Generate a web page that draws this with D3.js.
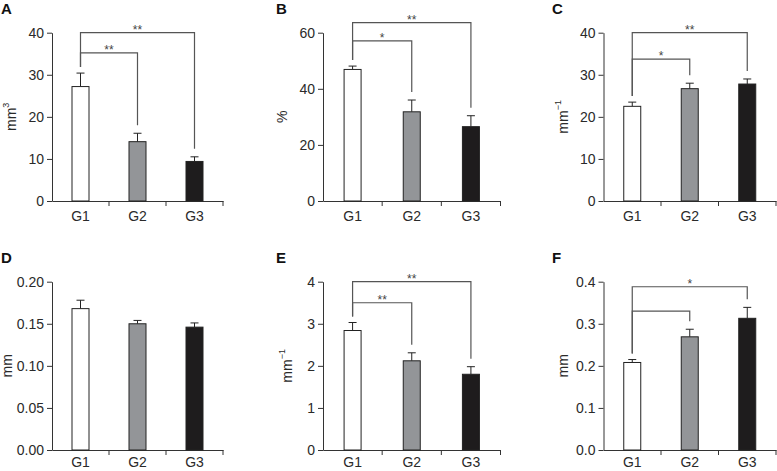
<!DOCTYPE html>
<html><head><meta charset="utf-8">
<script src="https://cdn.jsdelivr.net/npm/d3@7"></script>
<style>
body{margin:0;background:#fff}
svg{display:block}
text{font-family:"Liberation Sans",Arial,Helvetica,sans-serif}
</style>
</head><body>
<svg id="chart" width="777" height="471"></svg>
<script>
// ---------- data ----------
const groups = ["G1", "G2", "G3"];
const panelLetters = ["A", "B", "C", "D", "E", "F"];

const meansA = [27.2, 14.1, 9.4],   errA = [3.2, 2.0, 1.1],   ticksA = [0, 10, 20, 30, 40];
const meansB = [46.9, 31.8, 26.5],  errB = [1.2, 4.2, 3.9],   ticksB = [0, 20, 40, 60];
const meansC = [22.5, 26.7, 27.8],  errC = [1.0, 1.3, 1.2],   ticksC = [0, 10, 20, 30, 40];
const meansD = [0.168, 0.150, 0.146], errD = [0.010, 0.004, 0.005], ticksD = [0, 0.05, 0.10, 0.15, 0.20];
const meansE = [2.84, 2.12, 1.80],  errE = [0.19, 0.19, 0.18], ticksE = [0, 1, 2, 3, 4];
const meansF = [0.208, 0.269, 0.313], errF = [0.007, 0.018, 0.026], ticksF = [0, 0.1, 0.2, 0.3, 0.4];

const unitA = ["mm", "3"], unitB = ["%", ""], unitC = ["mm", "\u22121"],
      unitD = ["mm", ""], unitE = ["mm", "\u22121"], unitF = ["mm", ""];

// significance brackets: groups compared, bracket height (data units), label
const sigA = [{a: 0, b: 2, level: 40, label: "**"}, {a: 0, b: 1, level: 35.2, label: "**"}];
const sigB = [{a: 0, b: 2, level: 63.6, label: "**"}, {a: 0, b: 1, level: 57.1, label: "*"}];
const sigC = [{a: 0, b: 2, level: 40, label: "**"}, {a: 0, b: 1, level: 33.7, label: "*"}];
const sigD = [];
const sigE = [{a: 0, b: 2, level: 4.0, label: "**"}, {a: 0, b: 1, level: 3.5, label: "**"}];
const sigF = [{a: 0, b: 2, level: 0.388, label: "*"}, {a: 0, b: 1, level: 0.330, label: ""}];

// ---------- layout / style ----------
const colRange = [[52, 223], [323, 500.5], [603.5, 776]];
const rowRange = [[201, 32.7], [450, 281.7]];
const xPad = [10, 7];
const letterX = [1, 276, 552];
const letterY = [14, 263];
const labelX = [[16, 287, 568], [12, 292, 568]];
const fills = ["#ffffff", "#939598", "#1e1c1d"];
const axisColor = "#333";
const bracketColor = "#555";
const fs = 14;

const panels = [
  {letter: panelLetters[0], means: meansA, err: errA, ticks: ticksA, fmt: d3.format("d"),   unit: unitA, sig: sigA},
  {letter: panelLetters[1], means: meansB, err: errB, ticks: ticksB, fmt: d3.format("d"),   unit: unitB, sig: sigB},
  {letter: panelLetters[2], means: meansC, err: errC, ticks: ticksC, fmt: d3.format("d"),   unit: unitC, sig: sigC},
  {letter: panelLetters[3], means: meansD, err: errD, ticks: ticksD, fmt: d3.format(".2f"), unit: unitD, sig: sigD},
  {letter: panelLetters[4], means: meansE, err: errE, ticks: ticksE, fmt: d3.format("d"),   unit: unitE, sig: sigE},
  {letter: panelLetters[5], means: meansF, err: errF, ticks: ticksF, fmt: d3.format(".1f"), unit: unitF, sig: sigF}
];

const svg = d3.select("#chart");

panels.forEach((p, i) => {
  const col = i % 3, row = Math.floor(i / 3);
  const g = svg.append("g");
  const y = d3.scaleLinear().domain([0, d3.max(p.ticks)]).range(rowRange[row]);
  const x = d3.scaleBand().domain(groups).range(colRange[col]).padding(0);
  const cx = gName => x(gName) + x.bandwidth() / 2;
  const bottom = rowRange[row][0];
  const barW = 17;

  // panel letter
  g.append("text").attr("x", letterX[col]).attr("y", letterY[row])
    .attr("font-size", 15).attr("font-weight", "bold").attr("fill", "#111")
    .text(p.letter);

  // y axis
  const ya = g.append("g").attr("transform", `translate(${colRange[col][0]},0)`)
    .call(d3.axisLeft(y).tickValues(p.ticks).tickFormat(p.fmt).tickSize(5).tickSizeOuter(0).tickPadding(3));
  ya.select(".domain").attr("stroke", axisColor);
  ya.selectAll(".tick line").attr("stroke", axisColor);
  ya.selectAll(".tick text").attr("font-size", fs).attr("fill", "#2a2a2a")
    .attr("font-family", '"Liberation Sans",Arial,sans-serif');

  // x axis (labels)
  const xa = g.append("g").attr("transform", `translate(0,${bottom})`)
    .call(d3.axisBottom(x).tickSize(0).tickPadding(xPad[row]).tickSizeOuter(0));
  xa.select(".domain").attr("stroke", axisColor);
  xa.selectAll(".tick text").attr("font-size", fs).attr("fill", "#2a2a2a")
    .attr("font-family", '"Liberation Sans",Arial,sans-serif');
  // boundary ticks
  g.selectAll(".bt").data(groups).enter().append("line")
    .attr("x1", d => x(d) + x.bandwidth()).attr("x2", d => x(d) + x.bandwidth())
    .attr("y1", bottom).attr("y2", bottom + 5).attr("stroke", axisColor);

  // y label
  const midY = (rowRange[row][0] + rowRange[row][1]) / 2;
  const lab = g.append("text")
    .attr("transform", `translate(${labelX[row][col]},${midY}) rotate(-90)`)
    .attr("text-anchor", "middle").attr("font-size", fs).attr("fill", "#2a2a2a");
  lab.append("tspan").text(p.unit[0]);
  if (p.unit[1]) lab.append("tspan").attr("dy", -7).attr("font-size", 9).text(p.unit[1]);

  // error bars
  groups.forEach((gn, k) => {
    const c = cx(gn);
    const top = y(p.means[k] + p.err[k]);
    g.append("line").attr("x1", c).attr("x2", c).attr("y1", y(p.means[k])).attr("y2", top).attr("stroke", "#222");
    g.append("line").attr("x1", c - 4).attr("x2", c + 4).attr("y1", top).attr("y2", top).attr("stroke", "#222");
  });

  // bars
  g.selectAll(".bar").data(groups).enter().append("rect")
    .attr("x", d => cx(d) - barW / 2).attr("width", barW)
    .attr("y", (d, k) => y(p.means[k])).attr("height", (d, k) => bottom - y(p.means[k]))
    .attr("fill", (d, k) => fills[k]).attr("stroke", "#222").attr("stroke-width", 1);

  // significance brackets
  p.sig.forEach(s => {
    const xl = cx(groups[s.a]), xr = cx(groups[s.b]);
    const yl = y(s.level);
    const endL = y(p.means[s.a] + p.err[s.a]) - 6;
    const endR = y(p.means[s.b] + p.err[s.b]) - 8;
    g.append("path").attr("d", `M${xl},${endL}V${yl}H${xr}V${endR}`)
      .attr("fill", "none").attr("stroke", bracketColor).attr("stroke-width", 1.2);
    if (s.label) {
      g.append("text").attr("x", (xl + xr) / 2).attr("y", yl + 1)
        .attr("text-anchor", "middle").attr("font-size", 12).attr("fill", "#444").text(s.label);
    }
  });
});
</script>
</body></html>
